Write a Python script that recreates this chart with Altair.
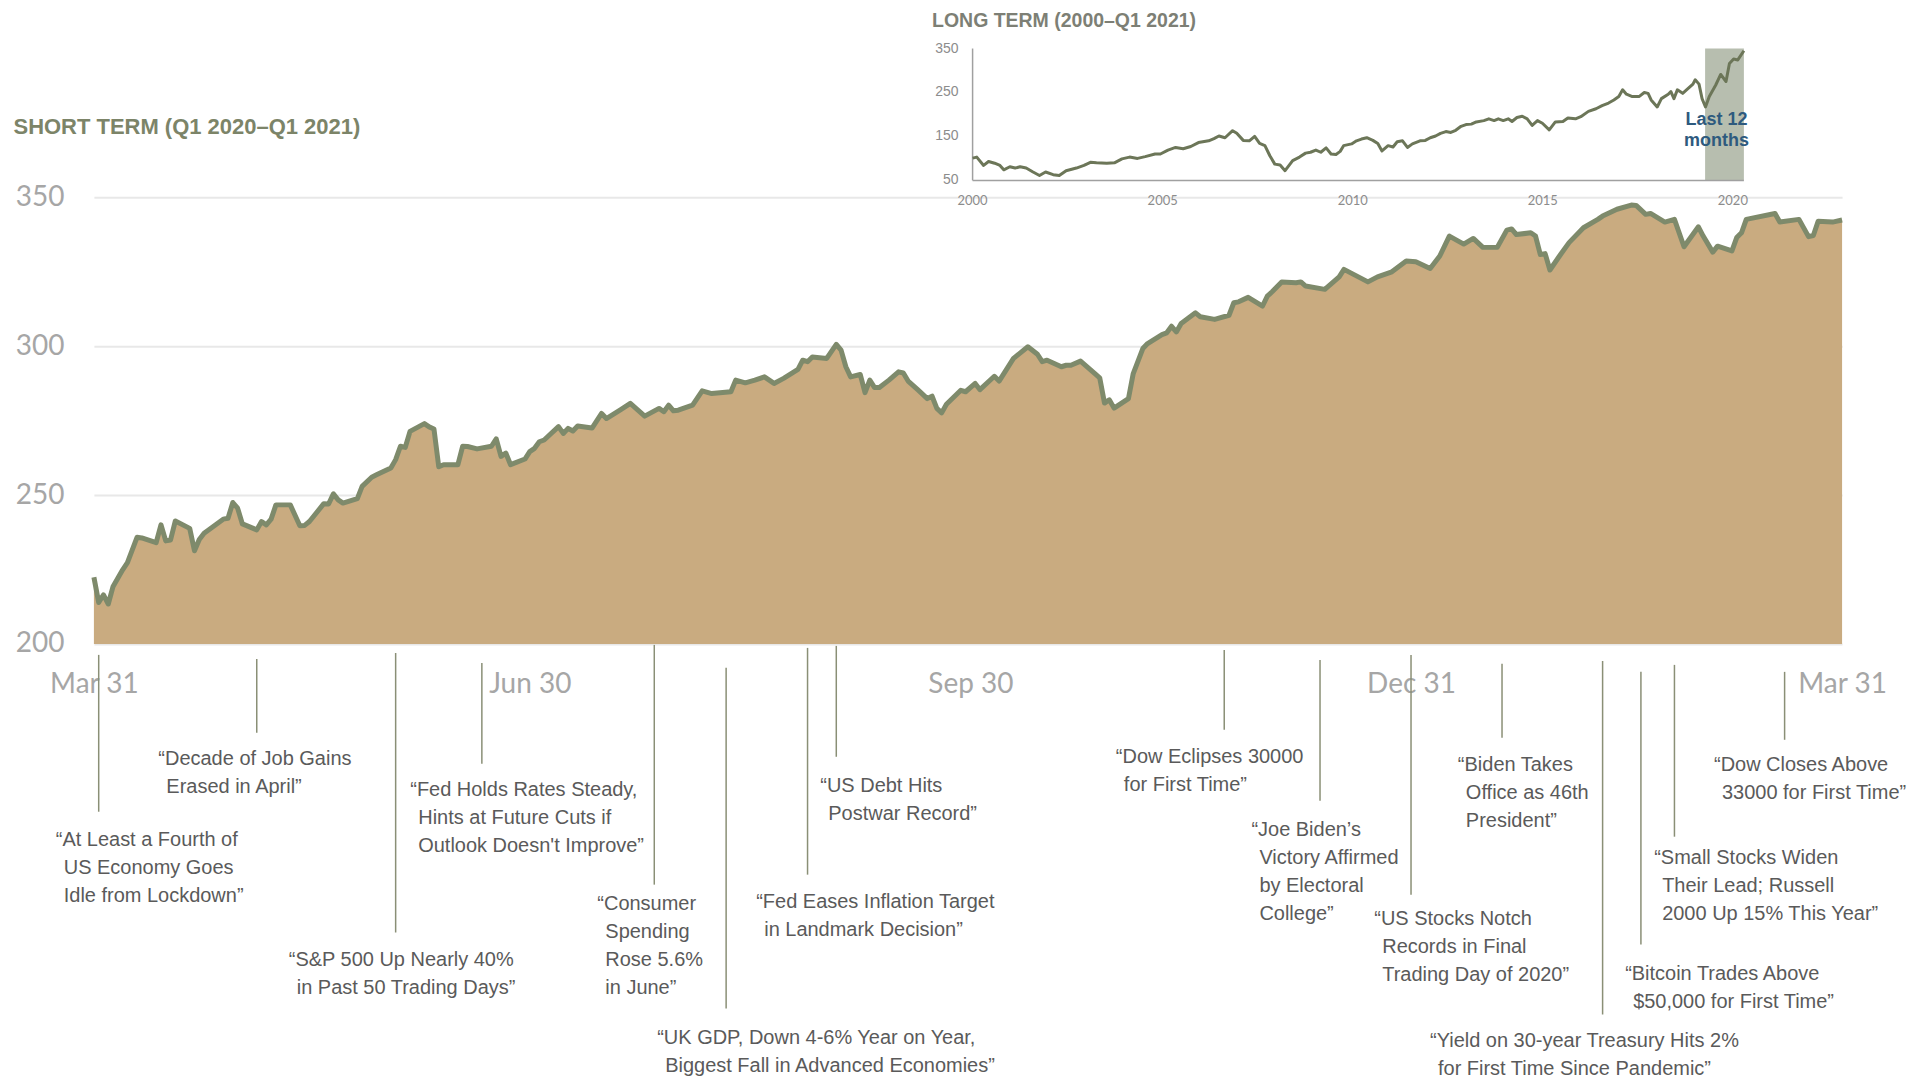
import altair as alt
import pandas as pd

# ---------------- data: short term index (Mar 31 2020 - Mar 31 2021) ----------------
ST_DATES = [
    "2020-03-31", "2020-04-01", "2020-04-02", "2020-04-03", "2020-04-04", "2020-04-06", "2020-04-07", "2020-04-09", "2020-04-10", "2020-04-13",
    "2020-04-14", "2020-04-15", "2020-04-16", "2020-04-17", "2020-04-20", "2020-04-21", "2020-04-22", "2020-04-23", "2020-04-27", "2020-04-28",
    "2020-04-29", "2020-04-30", "2020-05-01", "2020-05-04", "2020-05-05", "2020-05-06", "2020-05-07", "2020-05-08", "2020-05-11", "2020-05-13",
    "2020-05-14", "2020-05-15", "2020-05-18", "2020-05-19", "2020-05-20", "2020-05-21", "2020-05-22", "2020-05-25", "2020-05-26", "2020-05-28",
    "2020-05-29", "2020-06-01", "2020-06-02", "2020-06-03", "2020-06-04", "2020-06-05", "2020-06-08", "2020-06-09", "2020-06-10", "2020-06-11",
    "2020-06-12", "2020-06-15", "2020-06-16", "2020-06-17", "2020-06-19", "2020-06-22", "2020-06-23", "2020-06-24", "2020-06-25", "2020-06-26",
    "2020-06-29", "2020-06-30", "2020-07-01", "2020-07-02", "2020-07-03", "2020-07-06", "2020-07-07", "2020-07-08", "2020-07-09", "2020-07-10",
    "2020-07-13", "2020-07-15", "2020-07-16", "2020-07-19", "2020-07-21", "2020-07-24", "2020-07-27", "2020-07-28", "2020-07-29", "2020-07-30",
    "2020-07-31", "2020-08-03", "2020-08-05", "2020-08-07", "2020-08-11", "2020-08-12", "2020-08-14", "2020-08-16", "2020-08-18", "2020-08-20",
    "2020-08-22", "2020-08-25", "2020-08-26", "2020-08-27", "2020-08-28", "2020-08-31", "2020-09-02", "2020-09-03", "2020-09-04", "2020-09-05",
    "2020-09-07", "2020-09-08", "2020-09-09", "2020-09-10", "2020-09-11", "2020-09-13", "2020-09-15", "2020-09-16", "2020-09-17", "2020-09-19",
    "2020-09-21", "2020-09-22", "2020-09-23", "2020-09-24", "2020-09-25", "2020-09-28", "2020-09-29", "2020-10-01", "2020-10-02", "2020-10-05",
    "2020-10-06", "2020-10-09", "2020-10-12", "2020-10-14", "2020-10-15", "2020-10-16", "2020-10-19", "2020-10-20", "2020-10-21", "2020-10-23",
    "2020-10-26", "2020-10-27", "2020-10-28", "2020-10-29", "2020-10-30", "2020-11-02", "2020-11-03", "2020-11-05", "2020-11-06", "2020-11-09",
    "2020-11-10", "2020-11-11", "2020-11-12", "2020-11-13", "2020-11-16", "2020-11-17", "2020-11-20", "2020-11-23", "2020-11-24", "2020-11-25",
    "2020-11-27", "2020-11-30", "2020-12-01", "2020-12-02", "2020-12-04", "2020-12-07", "2020-12-08", "2020-12-09", "2020-12-13", "2020-12-16",
    "2020-12-17", "2020-12-22", "2020-12-24", "2020-12-27", "2020-12-30", "2021-01-01", "2021-01-04", "2021-01-06", "2021-01-08", "2021-01-11",
    "2021-01-13", "2021-01-15", "2021-01-18", "2021-01-20", "2021-01-21", "2021-01-22", "2021-01-25", "2021-01-26", "2021-01-27", "2021-01-28",
    "2021-01-29", "2021-01-31", "2021-02-02", "2021-02-05", "2021-02-08", "2021-02-09", "2021-02-12", "2021-02-15", "2021-02-16", "2021-02-18",
    "2021-02-19", "2021-02-22", "2021-02-24", "2021-02-26", "2021-03-01", "2021-03-02", "2021-03-04", "2021-03-05", "2021-03-08", "2021-03-09",
    "2021-03-10", "2021-03-11", "2021-03-17", "2021-03-18", "2021-03-22", "2021-03-24", "2021-03-25", "2021-03-26", "2021-03-29", "2021-03-31",
]
ST_VALUES = [
    222.4, 213.9, 216.5, 213.4, 219.3, 224.9, 227.3, 235.8, 235.6, 234.0,
    240.0, 234.6, 234.9, 241.3, 238.8, 231.3, 235.1, 237.2, 241.9, 242.2,
    247.5, 245.6, 240.3, 238.3, 241.1, 240.0, 241.9, 246.7, 246.7, 239.7,
    239.8, 241.1, 247.1, 247.0, 250.4, 248.4, 247.3, 248.8, 252.9, 256.0,
    256.8, 259.1, 261.9, 266.4, 266.0, 271.4, 274.0, 272.9, 272.2, 259.5,
    260.2, 260.2, 266.4, 266.3, 265.5, 266.4, 268.9, 263.0, 264.1, 260.2,
    262.1, 264.6, 265.7, 267.9, 268.5, 273.0, 270.7, 272.4, 271.5, 273.2,
    272.5, 277.4, 275.7, 278.7, 280.8, 276.5, 279.1, 278.0, 280.2, 278.3,
    278.5, 280.2, 285.0, 284.1, 284.7, 288.6, 287.7, 288.6, 289.7, 287.5,
    289.2, 292.2, 295.3, 294.8, 296.4, 295.9, 300.6, 298.7, 293.1, 289.7,
    290.5, 284.4, 288.6, 286.1, 286.1, 288.6, 291.4, 291.0, 288.3, 285.4,
    282.4, 283.2, 279.1, 277.6, 280.5, 285.2, 284.7, 287.5, 285.4, 289.9,
    288.3, 295.9, 299.8, 297.3, 294.8, 295.3, 293.1, 293.6, 293.6, 295.0,
    290.8, 289.4, 280.9, 282.0, 279.2, 282.4, 290.8, 299.2, 300.9, 303.9,
    304.5, 306.7, 304.8, 307.6, 311.2, 309.9, 309.0, 310.4, 314.6, 314.9,
    316.4, 313.5, 316.8, 318.3, 321.6, 321.3, 321.6, 320.2, 319.1, 323.3,
    325.8, 321.6, 323.3, 325.0, 328.6, 328.4, 326.1, 330.3, 337.0, 334.3,
    336.2, 333.2, 333.2, 339.0, 339.4, 337.5, 338.1, 337.0, 330.8, 331.1,
    325.6, 330.3, 334.8, 339.8, 342.6, 343.7, 346.0, 347.4, 347.3, 344.3,
    344.6, 341.7, 342.6, 333.4, 340.1, 337.0, 331.6, 333.6, 332.0, 336.5,
    338.1, 342.6, 344.6, 341.7, 342.6, 336.8, 337.2, 342.0, 341.7, 342.4,
]

# ---------------- data: long term index (2000 - Q1 2021) ----------------
LT_YEARS = [
    2000.00, 2000.11, 2000.29, 2000.42, 2000.58, 2000.72, 2000.82, 2000.98, 2001.12, 2001.25,
    2001.41, 2001.59, 2001.76, 2001.92, 2002.12, 2002.28, 2002.46, 2002.73, 2002.93, 2003.10,
    2003.26, 2003.53, 2003.73, 2003.93, 2004.13, 2004.34, 2004.54, 2004.80, 2004.94, 2005.14,
    2005.34, 2005.54, 2005.74, 2005.94, 2006.21, 2006.35, 2006.48, 2006.64, 2006.84, 2006.95,
    2007.12, 2007.28, 2007.42, 2007.55, 2007.69, 2007.82, 2007.95, 2008.09, 2008.22, 2008.42,
    2008.60, 2008.76, 2008.89, 2009.03, 2009.16, 2009.30, 2009.43, 2009.56, 2009.67, 2009.76,
    2009.97, 2010.10, 2010.23, 2010.37, 2010.53, 2010.66, 2010.77, 2010.93, 2011.06, 2011.17,
    2011.31, 2011.44, 2011.57, 2011.77, 2011.91, 2012.04, 2012.18, 2012.31, 2012.45, 2012.58,
    2012.71, 2012.85, 2012.98, 2013.12, 2013.25, 2013.45, 2013.58, 2013.72, 2013.83, 2013.96,
    2014.09, 2014.19, 2014.32, 2014.46, 2014.59, 2014.72, 2014.86, 2014.99, 2015.17, 2015.33,
    2015.53, 2015.66, 2015.86, 2016.00, 2016.20, 2016.40, 2016.56, 2016.73, 2016.87, 2017.00,
    2017.10, 2017.20, 2017.34, 2017.54, 2017.67, 2017.77, 2017.85, 2018.01, 2018.12, 2018.30,
    2018.37, 2018.45, 2018.54, 2018.68, 2018.81, 2018.95, 2019.01, 2019.11, 2019.19, 2019.28,
    2019.38, 2019.55, 2019.68, 2019.82, 2019.91, 2020.02, 2020.13, 2020.29,
]
LT_VALUES = [
    100.7, 103, 84, 93, 89, 84, 74, 81, 78, 81,
    78, 69, 61, 69, 63, 61, 72, 78, 84, 91,
    90, 89, 90, 99, 103, 100, 104, 110, 110, 119,
    125, 122, 127, 136, 140, 145, 151, 147, 163, 157,
    141, 140, 150, 134, 129, 106, 87, 85, 72, 95,
    103, 112, 114, 119, 114, 124, 110, 109, 116, 129,
    133, 140, 144, 147, 141, 134, 117, 129, 126, 138,
    140, 125, 133, 140, 141, 147, 151, 157, 161, 159,
    164, 173, 177, 178, 183, 186, 190, 186, 190, 186,
    190, 184, 193, 196, 190, 175, 186, 180, 165, 183,
    184, 192, 190, 195, 207, 213, 220, 226, 233, 241,
    256, 246, 241, 241, 250, 248, 233, 217, 236, 246,
    252, 236, 256, 248, 258, 269, 279, 269, 236, 217,
    241, 267, 291, 275, 316, 326, 324, 345,
]
LT_BAND = [2019.27, 2020.29]          # "last 12 months" shading
LT_DOMAIN = [2000, 2020.29]

# ---------------- ticks / labels ----------------
Y_TICKS = [200, 250, 300, 350]
X_TICKS = [(2020, 3, 31), (2020, 6, 30), (2020, 9, 30), (2020, 12, 31), (2021, 3, 31)]
LT_Y_TICKS = [50, 150, 250, 350]
LT_X_TICKS = [2000, 2005, 2010, 2015, 2020]

TITLE_ST = "SHORT TERM (Q1 2020\u2013Q1 2021)"
TITLE_LT = "LONG TERM (2000\u2013Q1 2021)"
BAND_LABEL = "Last 12\nmonths"

EVENT_DATES = [
    "2020-04-01", "2020-05-04", "2020-06-02", "2020-06-20", "2020-07-26", "2020-08-10",
    "2020-08-27", "2020-09-02", "2020-11-22", "2020-12-12", "2020-12-31", "2021-01-19",
    "2021-02-09", "2021-02-17", "2021-02-24", "2021-03-19",
]
EVENT_TEXT = [
    "\u201cAt Least a Fourth of\nUS Economy Goes\nIdle from Lockdown\u201d",
    "\u201cDecade of Job Gains\nErased in April\u201d",
    "\u201cS&P 500 Up Nearly 40%\nin Past 50 Trading Days\u201d",
    "\u201cFed Holds Rates Steady,\nHints at Future Cuts if\nOutlook Doesn't Improve\u201d",
    "\u201cConsumer\nSpending\nRose 5.6%\nin June\u201d",
    "\u201cUK GDP, Down 4-6% Year on Year,\nBiggest Fall in Advanced Economies\u201d",
    "\u201cFed Eases Inflation Target\nin Landmark Decision\u201d",
    "\u201cUS Debt Hits\nPostwar Record\u201d",
    "\u201cDow Eclipses 30000\nfor First Time\u201d",
    "\u201cJoe Biden\u2019s\nVictory Affirmed\nby Electoral\nCollege\u201d",
    "\u201cUS Stocks Notch\nRecords in Final\nTrading Day of 2020\u201d",
    "\u201cBiden Takes\nOffice as 46th\nPresident\u201d",
    "\u201cYield on 30-year Treasury Hits 2%\nfor First Time Since Pandemic\u201d",
    "\u201cBitcoin Trades Above\n$50,000 for First Time\u201d",
    "\u201cSmall Stocks Widen\nTheir Lead; Russell\n2000 Up 15% This Year\u201d",
    "\u201cDow Closes Above\n33000 for First Time\u201d",
]

# ---------------- layout (pixels, relative to the main plot area) ----------------
W, H = 1750, 447
LINE_TOP = [458, 462, 456, 466, 448, 471, 451, 449, 453, 463, 458, 467, 464, 475, 468, 475]
LINE_BOTTOM = [615, 536, 736, 567, 688, 812, 678, 560, 533, 604, 698, 541, 818, 748, 640, 543]
TEXT_DX = [-43, -98.5, -107, -71.7, -57, -69, -51.4, -16, -108.5, -68.7, -36.8, -44.2, -172.8, -15.8, -20.3, -70.7]
TEXT_Y = [649, 568, 769, 599, 713, 848, 711, 595, 566, 639, 728, 574, 851, 783, 667, 574]
TEXT_INDENT = 8
LINE_H = 28
INSET_X_RANGE = [879.6, 1651.7]
INSET_Y_RANGE = [-17, -149]

# ---------------- styles ----------------
FILL = "#C9AB80"
LINE = "#7E8A6B"
LT_LINE = "#6C7658"
BAND = "#B7BEAF"
GRID = "#E8E8E8"
LABEL = "#A6A6A6"
TXT = "#5A5A5A"
LEADER = "#8A8F76"
TITLE_C = "#7C8468"
LT_TITLE_C = "#7D7F75"
BLUE = "#2E5A7E"
NUM_FONT = "Lato"
ARIAL = "Liberation Sans, Arial, sans-serif"

first_lines = [t.split("\n")[0] for t in EVENT_TEXT]
rest_lines = ["\n".join(t.split("\n")[1:]) for t in EVENT_TEXT]

st_df = pd.DataFrame({"date": ST_DATES, "value": ST_VALUES})
lt_df = pd.DataFrame({"year": LT_YEARS, "value": LT_VALUES})
ev_df = pd.DataFrame({"date": EVENT_DATES, "first": first_lines, "rest": rest_lines})
one = pd.DataFrame({"k": [0]})

xs = alt.Scale(
    type="utc",
    domain=[alt.DateTime(year=2020, month=3, date=31, utc=True),
            alt.DateTime(year=2021, month=3, date=31, utc=True)],
)
ys = alt.Scale(domain=[200, 350], nice=False, zero=False)

x_axis = alt.Axis(
    values=[alt.DateTime(year=y, month=m, date=d, utc=True) for (y, m, d) in X_TICKS],
    format="%b %d", labelFont=NUM_FONT, labelFontSize=28, labelColor=LABEL,
    labelPadding=27, ticks=False, domain=False, grid=False, title=None,
    labelFlush=False, labelOverlap=False,
)
y_axis = alt.Axis(
    values=Y_TICKS, labelFont=NUM_FONT, labelFontSize=28, labelColor=LABEL,
    labelPadding=30, ticks=False, domain=False, grid=True, gridColor=GRID,
    gridWidth=2, title=None,
)

area = alt.Chart(st_df).mark_area(color=FILL).encode(
    x=alt.X("date:T", scale=xs, axis=x_axis),
    y=alt.Y("value:Q", scale=ys, axis=y_axis),
    y2=alt.Y2Datum(200),
)
line = alt.Chart(st_df).mark_line(color=LINE, strokeWidth=5, strokeJoin="round").encode(
    x="date:T", y="value:Q"
)

text_style = dict(align="left", baseline="alphabetic", font=ARIAL, fontSize=20,
                  lineHeight=LINE_H, color=TXT, lineBreak="\n")

main_layers = [area, line]
for i in range(len(EVENT_DATES)):
    row = ev_df.iloc[[i]]
    main_layers.append(
        alt.Chart(row).mark_rule(color=LEADER, strokeWidth=1.5).encode(
            x="date:T", y=alt.value(LINE_TOP[i]), y2=alt.value(LINE_BOTTOM[i])
        )
    )
    main_layers.append(
        alt.Chart(row).mark_text(dx=TEXT_DX[i], **text_style).encode(
            x="date:T", y=alt.value(TEXT_Y[i]), text="first:N"
        )
    )
    main_layers.append(
        alt.Chart(row).mark_text(dx=TEXT_DX[i] + TEXT_INDENT, **text_style).encode(
            x="date:T", y=alt.value(TEXT_Y[i] + LINE_H), text="rest:N"
        )
    )

title_st = alt.Chart(one).mark_text(
    align="left", baseline="alphabetic", font=ARIAL, fontWeight="bold",
    fontSize=22, color=TITLE_C,
).encode(x=alt.value(-80.5), y=alt.value(-63), text=alt.value(TITLE_ST))
main_layers.append(title_st)

main = alt.layer(*main_layers)

# ---------------- inset (long term) ----------------
ix = alt.Scale(domain=LT_DOMAIN, range=INSET_X_RANGE, nice=False, zero=False)
iy = alt.Scale(domain=[50, 350], range=INSET_Y_RANGE, nice=False, zero=False)

band = alt.Chart(pd.DataFrame({"start": [LT_BAND[0]], "end": [LT_BAND[1]]})).mark_rect(
    color=BAND
).encode(
    x=alt.X("start:Q", scale=ix, axis=None), x2="end:Q",
    y=alt.YDatum(50, scale=iy, axis=None), y2=alt.Y2Datum(350),
)
lt_line = alt.Chart(lt_df).mark_line(color=LT_LINE, strokeWidth=3, strokeJoin="round").encode(
    x=alt.X("year:Q", scale=ix, axis=None), y=alt.Y("value:Q", scale=iy, axis=None)
)
ax_left = alt.Chart(one).mark_rule(color="#A0A0A0", strokeWidth=1.5).encode(
    x=alt.XDatum(LT_DOMAIN[0], scale=ix, axis=None),
    y=alt.YDatum(50, scale=iy, axis=None), y2=alt.Y2Datum(350),
)
ax_bottom = alt.Chart(one).mark_rule(color="#A0A0A0", strokeWidth=1.5).encode(
    x=alt.XDatum(LT_DOMAIN[0], scale=ix, axis=None), x2=alt.X2Datum(LT_DOMAIN[1]),
    y=alt.YDatum(50, scale=iy, axis=None),
)
lt_ylab = alt.Chart(pd.DataFrame({"v": LT_Y_TICKS})).mark_text(
    align="right", baseline="middle", dx=-14, font=ARIAL, fontSize=14, color="#8C8C8C"
).encode(
    x=alt.XDatum(LT_DOMAIN[0], scale=ix, axis=None),
    y=alt.Y("v:Q", scale=iy, axis=None), text="v:Q",
)
lt_xlab = alt.Chart(pd.DataFrame({"yr": LT_X_TICKS})).mark_text(
    align="center", baseline="middle", dy=21, font=NUM_FONT, fontSize=13, color="#8C8C8C"
).encode(
    x=alt.X("yr:Q", scale=ix, axis=None),
    y=alt.YDatum(50, scale=iy, axis=None), text=alt.Text("yr:Q", format="d"),
)
band_lab = alt.Chart(pd.DataFrame({"m": [(LT_BAND[0] + LT_BAND[1]) / 2]})).mark_text(
    align="center", baseline="alphabetic", dx=-8, font=ARIAL, fontWeight="bold",
    fontSize=18, lineHeight=21, color=BLUE, lineBreak="\n",
).encode(
    x=alt.X("m:Q", scale=ix, axis=None), y=alt.value(-72.5), text=alt.value(BAND_LABEL)
)
title_lt = alt.Chart(one).mark_text(
    align="left", baseline="alphabetic", font=ARIAL, fontWeight="bold",
    fontSize=19.5, color=LT_TITLE_C,
).encode(x=alt.value(839), y=alt.value(-170.4), text=alt.value(TITLE_LT))

inset = alt.layer(band, ax_left, ax_bottom, lt_line, lt_ylab, lt_xlab, band_lab, title_lt)

chart = (
    alt.layer(main, inset)
    .resolve_scale(x="independent", y="independent")
    .properties(
        width=W, height=H,
        autosize=alt.AutoSizeParams(type="none"),
        padding={"left": 86, "top": 189, "right": 75, "bottom": 436},
    )
    .configure_view(stroke=None)
)

chart.save("out.html", embed_options={"renderer": "svg", "actions": False})
